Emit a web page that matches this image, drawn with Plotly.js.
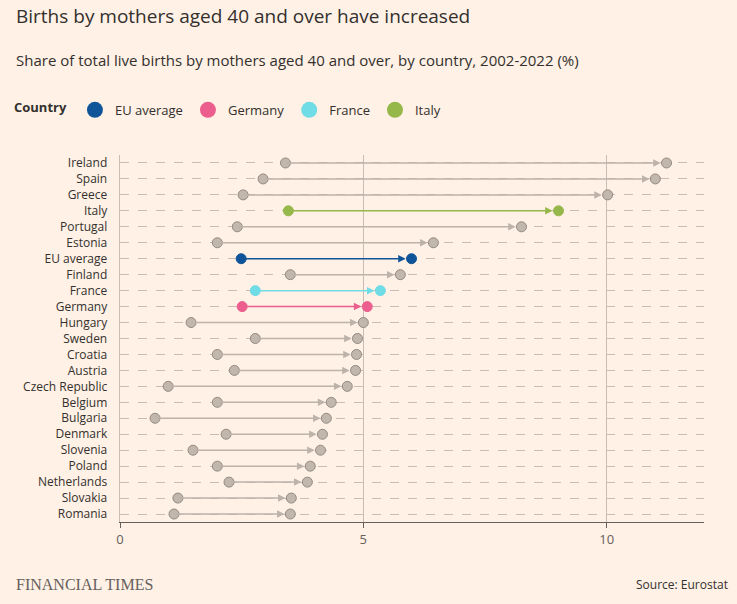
<!DOCTYPE html>
<html>
<head>
<meta charset="utf-8">
<script src="https://cdn.plot.ly/plotly-3.0.1.min.js"></script>
<style>body{margin:0;background:#fff1e5}</style>
</head>
<body>
<div id="chart" style="width:737px;height:604px"></div>
<script>
const countries = ["Ireland","Spain","Greece","Italy","Portugal","Estonia","EU average","Finland","France","Germany","Hungary","Sweden","Croatia","Austria","Czech Republic","Belgium","Bulgaria","Denmark","Slovenia","Poland","Netherlands","Slovakia","Romania"];
const share2002 = [3.40,2.94,2.53,3.46,2.41,2.00,2.49,3.50,2.78,2.51,1.46,2.78,2.00,2.35,0.99,2.00,0.72,2.18,1.50,2.00,2.24,1.19,1.11];
const share2022 = [11.23,11.00,10.02,9.01,8.25,6.44,5.99,5.76,5.35,5.08,5.00,4.88,4.86,4.84,4.67,4.34,4.24,4.16,4.12,3.91,3.85,3.52,3.50];
const highlight = {"EU average":"#0f5499","Germany":"#eb5e8d","France":"#70dce6","Italy":"#96b84a"};

const traces = [];
const annotations = [];
countries.forEach(function (c, i) {
    const col = highlight[c];
    annotations.push({
        x: share2022[i] - 0.12, y: c, ax: share2002[i], ay: c,
        xref: 'x', yref: 'y', axref: 'x', ayref: 'y',
        showarrow: true, arrowhead: 2, arrowsize: 1, arrowwidth: 1.5,
        arrowcolor: col || "#bdb3aa", text: ''
    });
    traces.push({
        x: [share2002[i], share2022[i]], y: [c, c], mode: 'markers', type: 'scatter',
        showlegend: false, hoverinfo: 'skip',
        marker: {size: 10, color: col || "#c1b7ad", line: {color: col || "#948a82", width: 1}}
    });
});
["EU average","Germany","France","Italy"].forEach(function (c) {
    traces.push({x: [null], y: [null], type: 'scatter', mode: 'markers', name: c,
        marker: {size: 16, color: highlight[c]}});
});

annotations.push(
    {text: "Births by mothers aged 40 and over have increased", xref: 'paper', yref: 'paper', x: -0.182, y: 1.38, xanchor: 'left', yanchor: 'middle', showarrow: false, font: {size: 19, color: "#33302e"}},
    {text: "Share of total live births by mothers aged 40 and over, by country, 2002-2022 (%)", xref: 'paper', yref: 'paper', x: -0.182, y: 1.259, xanchor: 'left', yanchor: 'middle', showarrow: false, font: {size: 15, color: "#33302e"}},
    {text: "FINANCIAL TIMES", xref: 'paper', yref: 'paper', x: -0.182, y: -0.17, xanchor: 'left', yanchor: 'middle', showarrow: false, font: {size: 16, color: "#66605c", family: "Liberation Serif, serif"}},
    {text: "Source: Eurostat", xref: 'paper', yref: 'paper', x: 1.045, y: -0.17, xanchor: 'right', yanchor: 'middle', showarrow: false, font: {size: 12, color: "#33302e"}}
);

Plotly.newPlot('chart', traces, {
    width: 737, height: 604,
    paper_bgcolor: "#fff1e5", plot_bgcolor: "#fff1e5",
    font: {family: "Open Sans, sans-serif", color: "#33302e", size: 12},
    margin: {l: 118, r: 33, t: 155, b: 82},
    xaxis: {range: [0, 12], tickvals: [0, 5, 10], showgrid: true, gridcolor: "#c7bdb4",
        zeroline: false, showline: true, linecolor: "#66605c", ticks: 'outside', ticklen: 5, tickcolor: "#66605c",
        tickfont: {size: 13, color: "#66605c"}, automargin: false},
    yaxis: {range: [22.5, -0.5], dtick: 1, showgrid: true, gridcolor: "#c7bdb4", griddash: 'dash',
        ticks: '', tickfont: {size: 12, color: "#33302e"}, ticksuffix: "   ", zeroline: false,
        showline: true, linecolor: "#c7bdb4", automargin: false},
    showlegend: true,
    legend: {orientation: 'h', x: -0.185, xanchor: 'left', y: 1.123, yanchor: 'middle',
        title: {text: "<b>Country</b>", font: {size: 13}}, font: {size: 13},
        itemwidth: 30, tracegroupgap: 0},
    annotations: annotations
}, {displayModeBar: false});
</script>
</body>
</html>
